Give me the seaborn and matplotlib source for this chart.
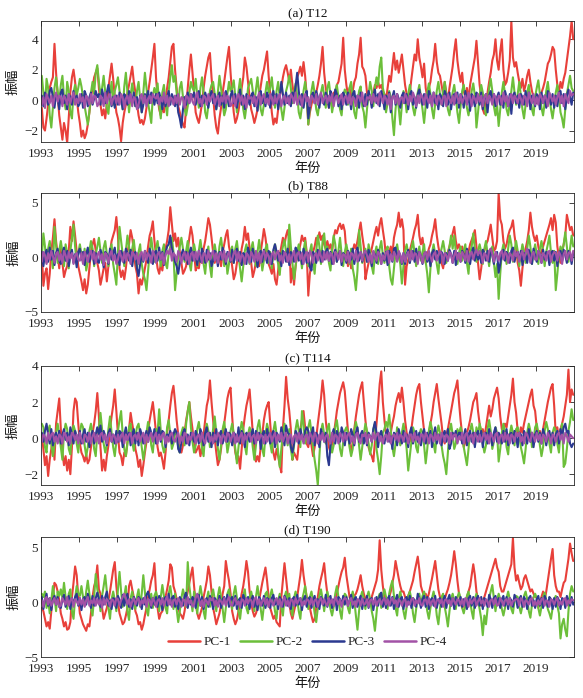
import numpy as np
import pandas as pd
import matplotlib
matplotlib.use("Agg")
import matplotlib.pyplot as plt
import seaborn as sns

# ---------------- data (monthly estimates, 1993-2020) ----------------
years_start = 1993
tick_years = list(range(1993, 2021, 2))
series_names = ["PC-1", "PC-2", "PC-3", "PC-4"]
colors = ["#E8403A", "#6CBF3A", "#2B3990", "#A252A6"]

# (a) T12
a_pc1 = [
 -0.5,-1.8,-2.0,-1.2,-0.3,0.8,1.2,1.5,3.7,1.8,0.3,-1.0,
 -1.8,-2.6,-1.5,-2.0,-2.8,-1.2,0.5,1.5,2.0,1.2,0.2,-0.8,
 -1.5,-2.4,-2.0,-2.5,-2.2,-1.6,-0.8,0.2,0.8,1.5,1.8,2.1,
 0.8,-0.3,-1.0,-0.6,-1.2,-0.2,0.8,1.6,2.4,1.4,0.2,-0.8,
 -1.2,-1.8,-2.7,-1.5,-0.8,-0.3,0.5,1.0,1.6,2.2,1.2,0.5,
 -0.2,-1.0,-1.5,-1.3,-1.6,-1.2,-0.5,0.5,1.2,2.0,2.8,3.7,
 1.5,0.2,-0.6,-1.0,-0.5,-0.8,0.0,0.8,1.5,2.5,3.5,3.7,
 2.0,0.8,-0.4,-0.8,-1.2,-1.6,-1.8,-0.5,0.8,2.0,3.0,1.8,
 0.5,-0.8,-1.2,-1.5,-0.9,-0.2,0.8,1.6,2.2,2.8,3.1,1.5,
 0.3,-1.0,-1.8,-2.2,-1.2,-0.5,0.5,1.2,2.0,2.8,3.5,1.8,
 0.4,-0.8,-1.5,-1.2,-0.7,0.0,0.8,1.5,2.8,2.2,1.2,0.2,
 -0.6,-1.0,-1.5,-1.1,-0.6,0.2,0.9,1.6,2.0,2.6,3.2,1.6,
 0.4,-0.8,-1.6,-1.2,-1.5,-0.6,0.2,0.8,1.5,2.0,2.3,1.8,
 1.2,2.0,1.0,0.3,0.6,1.5,1.8,2.2,1.6,2.5,1.6,0.3,
 -1.6,-0.8,-0.3,0.2,0.0,0.5,1.0,1.6,2.4,3.5,1.8,0.8,
 0.2,-0.5,0.3,-0.2,0.5,0.2,1.0,1.2,1.8,2.4,4.1,2.0,
 1.0,0.3,0.8,0.2,0.6,1.2,1.5,2.4,3.0,4.1,2.2,2.0,
 1.6,0.5,0.0,0.3,-0.3,0.5,1.0,0.8,1.2,0.8,1.0,0.6,
 0.4,0.0,0.8,1.6,1.2,2.2,3.1,2.0,2.6,1.8,2.4,3.0,
 2.0,1.0,0.4,-0.3,0.5,1.4,2.2,3.0,2.6,4.0,2.8,2.2,
 1.5,2.4,0.8,0.2,0.8,1.2,2.0,2.6,3.7,2.5,1.8,1.6,
 1.0,0.4,1.2,0.5,0.0,0.8,1.5,2.2,3.2,4.0,2.6,1.8,
 1.2,1.8,0.6,0.2,0.8,0.0,1.0,1.6,2.2,2.8,3.9,2.4,
 1.0,0.2,-0.6,-0.9,-0.3,0.5,1.2,1.8,2.6,3.0,4.0,2.6,
 2.0,3.2,4.0,2.0,1.0,1.2,1.8,2.6,5.2,2.8,2.2,2.5,
 1.8,1.2,0.8,1.4,0.6,1.0,1.6,2.0,1.2,0.6,0.2,0.0,
 -0.2,0.3,0.0,0.5,0.8,1.2,1.8,2.4,2.6,3.0,3.5,3.3,
 2.0,1.0,0.5,1.2,0.8,1.4,1.8,2.6,3.4,4.2,5.2,4.0,
]
a_pc2 = [
 1.6,0.5,-0.5,1.4,0.8,-1.0,-1.8,-0.5,0.8,1.5,0.6,-0.2,
 1.0,1.6,0.2,-0.6,1.2,0.6,-0.8,-1.2,0.5,1.0,0.3,0.8,
 1.4,0.9,0.2,-0.4,-1.0,-1.6,-0.8,0.5,1.2,0.4,1.8,2.3,
 1.2,0.3,0.8,1.6,0.5,-0.5,-0.9,0.4,1.2,-0.3,0.6,1.0,
 1.5,0.6,0.2,-0.6,0.9,1.8,0.5,-0.8,0.3,1.1,0.4,-0.4,
 0.6,1.2,0.1,-0.8,0.5,1.8,0.8,-0.2,-0.8,-1.5,0.3,0.8,
 0.4,1.1,-0.3,-1.2,0.5,1.0,-0.2,-1.0,0.6,1.5,2.3,1.2,
 1.6,0.5,-0.2,0.8,1.2,0.2,-0.6,-1.0,-0.4,0.5,1.2,0.8,
 0.6,1.4,0.3,-0.5,0.8,1.5,0.5,-0.8,-1.2,-0.3,0.6,1.0,
 1.2,0.4,-0.6,0.5,1.6,0.8,-0.2,-1.0,-0.6,0.4,1.2,0.6,
 0.8,1.3,0.2,-0.8,0.6,1.4,0.3,-0.6,-1.2,-0.4,0.8,1.1,
 1.4,0.6,-0.2,0.7,1.5,0.4,-0.6,-1.0,-0.3,0.5,1.2,0.5,
 0.8,1.5,0.4,-0.5,0.6,1.2,0.2,-0.6,-1.3,-0.5,0.6,1.0,
 1.6,0.8,-0.2,0.5,1.1,0.3,-0.8,-1.2,-0.4,0.6,1.2,0.4,
 -1.6,-0.5,0.6,1.2,0.4,-0.6,-1.0,-0.2,0.5,1.0,0.3,-0.5,
 0.8,1.2,0.3,-0.8,-0.2,0.6,1.0,0.2,-0.6,-1.0,0.2,0.7,
 0.5,-0.3,0.8,1.2,0.2,-0.8,-1.2,-0.2,0.6,0.9,-0.4,-0.8,
 -1.8,-0.6,0.4,1.2,0.6,-0.4,0.8,1.5,1.0,2.2,2.8,0.8,
 0.3,-0.8,-0.2,0.6,0.2,-1.2,-2.3,-0.6,0.4,-0.5,-1.6,-0.3,
 0.6,0.2,-0.8,0.4,1.0,0.3,-0.5,-1.0,-0.3,0.5,1.0,0.2,
 -0.6,-1.5,-0.4,0.5,1.1,0.4,-0.6,-1.2,-0.2,0.6,1.2,0.4,
 -0.3,0.6,1.2,0.3,-0.6,-1.0,-0.2,0.5,1.0,0.2,-0.8,-1.5,
 -0.4,0.6,1.0,0.2,-0.5,-1.0,-0.3,0.6,1.1,0.3,-1.8,-0.8,
 0.3,1.0,0.5,-0.4,-1.0,-0.2,0.8,1.4,0.6,-0.4,-1.0,-0.3,
 -1.7,-0.6,0.5,1.2,0.4,-0.6,-1.0,-0.2,0.6,1.5,0.5,-0.3,
 0.4,1.2,0.3,-0.6,-1.2,-0.3,0.5,1.0,0.2,-0.6,-1.0,0.2,
 0.8,1.3,0.4,-0.5,-1.0,-0.2,0.6,1.2,0.3,-0.6,-1.2,-0.4,
 0.5,1.0,0.2,-0.8,-1.2,-1.8,-0.6,0.4,1.0,1.6,0.8,0.6,
]
a_pc3 = [
 0.3,-0.4,0.5,0.2,-0.3,0.6,0.8,0.2,-0.5,0.4,0.1,-0.6,
 0.5,0.7,-0.2,0.3,-0.6,0.4,0.2,-0.3,0.6,-0.1,0.3,-0.4,
 -0.2,0.4,-0.5,0.6,0.3,-0.4,0.2,0.5,-0.3,0.1,0.6,0.2,
 0.4,-0.3,0.7,0.2,-0.2,0.5,1.0,0.3,-0.4,0.2,-0.5,0.3,
 -0.3,0.5,0.1,-0.6,0.4,0.2,-0.3,0.6,0.3,-0.2,0.5,-0.4,
 0.2,-0.5,0.3,-0.8,-0.3,0.4,0.1,0.6,-0.2,0.5,0.3,-0.3,
 0.4,-0.2,0.5,0.1,-0.6,0.3,-0.4,0.2,0.6,-0.3,0.4,0.1,
 -0.4,0.3,-0.8,-1.2,-1.8,-0.6,0.2,-0.3,0.5,-0.2,0.4,0.2,
 0.5,-0.3,0.2,0.6,-0.4,0.3,-0.2,0.5,0.1,-0.5,0.3,0.6,
 -0.2,0.4,-0.6,0.2,0.5,-0.3,0.3,-0.5,0.6,0.2,-0.4,0.3,
 0.6,-0.2,0.4,-0.5,0.2,0.7,-0.3,0.3,-0.6,0.4,0.1,-0.3,
 0.3,0.5,-0.4,0.2,-0.7,0.4,0.6,-0.2,0.3,-0.4,0.5,0.2,
 -0.5,0.3,0.6,-0.2,0.4,-0.6,0.2,1.2,0.4,-0.3,0.5,-0.2,
 0.3,-0.4,0.5,0.2,0.9,1.8,0.6,-0.3,0.4,-0.5,0.2,0.6,
 -1.2,-0.4,0.3,0.5,-0.2,0.6,0.2,-0.5,0.4,0.1,-0.3,0.5,
 0.2,-0.5,0.6,0.3,-0.2,0.7,0.4,-0.4,0.3,-0.6,0.5,0.2,
 -0.3,0.5,0.2,-0.6,0.4,0.6,-0.2,0.3,-0.5,0.5,0.1,-0.4,
 0.4,-0.3,0.6,0.2,-0.5,0.3,0.7,-0.2,0.4,-0.4,0.6,0.2,
 -0.6,0.3,-0.2,0.5,-0.8,0.2,0.6,-0.3,0.4,0.1,-0.5,0.3,
 0.5,-0.2,0.4,-0.6,0.3,0.6,-0.3,0.2,-0.5,0.4,0.7,0.1,
 -0.3,0.4,0.2,-0.5,0.6,0.3,-0.4,0.5,-0.2,0.3,-0.6,0.4,
 0.2,-0.4,0.6,0.3,-0.3,0.5,-0.6,0.2,0.4,-0.2,0.5,-0.5,
 0.4,0.2,-0.5,0.6,-0.2,0.3,-0.7,0.4,0.1,-0.4,0.5,0.3,
 -0.3,0.5,-0.6,0.2,0.4,-0.8,0.3,0.6,-0.2,0.4,-0.4,0.2,
 0.5,-0.3,0.3,-0.5,0.6,0.2,-0.4,0.4,-0.9,0.3,0.5,-0.2,
 0.3,-0.5,0.4,0.2,-0.3,0.6,-0.2,0.5,-0.6,0.3,0.1,-0.4,
 0.4,0.2,-0.6,0.5,-0.2,0.3,-0.5,0.6,0.2,-0.3,0.4,-0.5,
 0.3,-0.4,0.5,0.6,-0.2,0.4,-0.6,0.3,0.7,0.2,-0.3,0.5,
]
a_pc4 = [
 -0.3,0.2,-0.5,0.4,0.1,-0.2,0.3,-0.4,0.2,0.5,-0.1,0.3,
 0.2,-0.4,0.3,0.1,-0.3,0.4,-0.2,0.2,0.5,-0.3,0.1,-0.2,
 0.4,-0.1,0.2,-0.5,0.3,0.1,-0.3,0.4,-0.2,0.3,0.2,-0.4,
 -0.2,0.3,0.1,-0.4,0.5,-0.2,0.2,0.4,-0.3,0.1,0.3,-0.2,
 0.3,-0.3,0.4,0.2,-0.5,0.1,0.3,-0.2,0.4,-0.4,0.2,0.1,
 -0.6,-0.3,0.2,0.4,-0.2,0.3,-0.4,0.1,0.3,-0.2,0.4,0.2,
 0.1,0.4,-0.3,0.2,-0.1,0.5,-0.2,0.3,-0.4,0.2,0.1,-0.3,
 0.3,-0.2,0.4,-0.3,0.2,0.1,-0.5,0.3,0.2,-0.2,0.4,-0.1,
 -0.3,0.2,0.5,-0.2,0.1,-0.4,0.3,0.2,-0.3,0.4,-0.1,0.2,
 0.4,-0.3,0.1,0.3,-0.4,0.2,-0.1,0.5,-0.2,0.3,0.1,-0.4,
 -0.2,0.3,-0.4,0.2,0.4,-0.1,0.3,-0.3,0.2,-0.5,0.3,0.1,
 0.2,-0.2,0.3,-0.4,0.1,0.5,-0.3,0.2,0.4,-0.2,0.1,-0.3,
 0.4,0.1,-0.3,0.3,-0.2,0.2,0.4,-0.4,0.1,0.3,-0.2,0.2,
 -0.3,0.4,0.2,-0.2,0.5,-0.3,0.1,0.3,-0.4,0.2,0.4,-0.1,
 0.2,-0.4,0.3,0.1,-0.2,0.4,-0.3,0.2,0.5,-0.2,0.1,0.3,
 -0.2,0.3,-0.1,0.4,-0.4,0.2,0.3,-0.2,0.1,0.4,-0.3,0.2,
 0.3,-0.2,0.4,-0.3,0.2,0.1,-0.4,0.3,0.2,-0.1,0.5,-0.2,
 -0.4,0.2,0.1,0.3,-0.2,0.4,-0.1,0.2,-0.3,0.5,0.2,-0.2,
 0.3,0.1,-0.3,0.4,-0.6,0.2,0.3,-0.2,0.4,-0.3,0.1,0.2,
 -0.2,0.4,0.2,-0.3,0.3,-0.1,0.5,0.2,-0.4,0.3,-0.2,0.4,
 0.2,-0.3,0.4,0.1,-0.2,0.3,-0.4,0.5,0.2,-0.3,0.3,0.1,
 -0.3,0.2,0.3,-0.4,0.4,0.1,-0.2,0.3,-0.3,0.5,0.2,-0.2,
 0.4,-0.2,0.1,0.3,-0.3,0.5,0.2,-0.4,0.3,0.1,-0.2,0.4,
 -0.1,0.3,-0.4,0.2,0.4,-0.2,0.3,0.1,-0.3,0.4,0.2,-0.3,
 0.3,0.2,-0.3,0.5,-0.1,0.3,-0.4,0.2,0.4,-0.2,0.3,0.1,
 -0.2,0.4,0.1,-0.3,0.3,0.2,-0.4,0.5,0.1,-0.2,0.4,-0.3,
 0.2,-0.3,0.4,0.2,-0.2,0.3,0.1,-0.4,0.5,0.2,-0.1,0.3,
 -0.3,0.2,0.5,-0.2,0.3,-0.4,0.4,0.1,-0.2,0.6,0.3,0.4,
]

# (b) T88
b_pc1 = [
 0.5,-2.6,-1.5,-1.0,-2.9,-1.5,0.5,1.8,3.5,1.5,0.2,-1.0,
 1.0,-0.5,-1.8,-1.2,-0.8,0.6,2.8,1.5,3.3,2.0,0.5,-0.8,
 -1.5,-2.2,-3.0,-2.0,-3.3,-2.5,-1.0,0.5,1.2,1.7,0.6,-0.5,
 -1.2,-2.5,-1.8,-1.0,-0.5,-2.2,-0.8,0.5,1.5,2.0,2.5,3.7,
 2.0,-1.0,-1.8,-1.2,-2.0,-1.0,0.5,1.2,2.5,1.8,0.6,-0.8,
 -1.5,-3.3,-2.0,-2.5,-1.8,-1.0,-0.2,1.0,2.0,2.5,3.3,1.5,
 0.2,-1.0,-1.5,-0.6,-1.2,0.0,0.8,1.5,2.5,4.6,3.0,1.5,
 2.2,1.0,1.8,0.5,-0.5,-1.5,-1.2,-0.8,0.6,1.8,2.8,2.0,
 0.5,-1.2,-0.8,-1.0,0.2,-0.5,0.8,1.5,2.5,3.6,3.0,1.8,
 0.5,-0.5,0.2,-0.3,0.0,-0.8,0.5,1.2,2.0,2.5,1.0,0.3,
 -0.8,-2.0,-1.5,-0.5,0.3,-0.6,0.8,1.5,2.8,1.6,2.2,0.8,
 -0.5,-1.8,-1.2,-0.4,0.2,-0.8,0.5,1.5,2.6,1.8,0.6,-0.6,
 -1.0,-1.5,-0.6,-2.0,-2.5,-1.2,0.2,1.0,1.8,1.2,2.0,2.5,
 1.5,-2.3,-1.0,-2.5,-0.8,0.2,0.5,1.2,2.0,1.5,1.8,0.5,
 -3.5,-1.5,-0.5,0.5,1.0,1.8,1.5,2.3,1.6,2.0,1.2,0.8,
 1.5,0.8,1.2,0.5,1.8,2.5,2.2,2.8,3.1,2.6,3.0,2.4,
 0.5,-0.8,0.2,-1.0,0.5,1.2,0.8,1.5,2.4,3.2,2.0,1.0,
 -2.0,-1.2,-0.5,0.3,0.8,1.5,2.2,2.8,2.0,3.0,3.6,2.5,
 1.5,0.0,-0.5,0.5,1.0,0.2,1.8,2.5,3.0,4.1,2.8,3.5,
 2.5,-2.5,-0.8,-0.2,0.6,1.2,1.8,2.5,3.0,3.9,2.0,1.2,
 1.8,0.6,-0.5,0.2,0.8,1.2,2.0,2.6,3.5,2.0,1.0,0.2,
 -0.5,-1.0,0.0,-0.3,0.5,1.0,1.6,2.2,2.8,1.5,0.8,1.2,
 0.6,1.0,0.3,0.8,0.0,0.5,1.2,1.6,2.0,2.5,1.0,-0.5,
 -2.0,-1.0,0.3,0.6,1.2,1.5,2.2,3.0,1.8,0.6,0.8,1.5,
 5.9,3.5,3.0,1.5,0.8,1.2,2.0,2.5,2.8,3.4,2.0,1.0,
 -0.5,-1.2,-2.6,-1.0,0.2,0.8,1.5,2.5,4.1,2.8,2.0,1.5,
 2.0,1.0,0.2,0.5,1.0,1.5,2.0,2.5,3.0,3.6,2.5,3.9,
 3.2,1.0,0.0,-0.5,0.5,1.2,2.0,3.9,3.2,2.5,2.8,2.0,
]
b_pc2 = [
 0.0,2.2,1.0,-0.5,0.8,1.5,0.2,-1.0,2.8,1.2,-0.5,0.6,
 1.5,0.5,-0.8,1.2,0.4,-1.0,0.6,1.8,3.0,1.0,-0.6,0.4,
 1.2,0.3,-0.5,0.8,-1.2,-0.4,0.6,1.5,0.8,-0.8,0.3,1.0,
 1.8,0.6,-0.5,0.9,1.5,0.3,-0.8,0.5,1.2,-0.6,-1.5,-2.5,
 0.5,2.8,1.5,0.3,-0.8,0.6,2.0,1.0,-0.5,0.8,1.6,0.2,
 -1.0,0.5,1.2,-0.6,-1.5,-2.0,-3.0,-1.2,0.5,1.8,0.6,-0.4,
 0.8,1.5,0.2,-0.8,0.6,1.2,-0.5,-1.0,0.4,1.0,1.8,0.5,
 -3.0,-1.5,0.2,1.0,1.8,0.8,-0.4,0.6,1.5,-0.5,-1.2,0.3,
 1.2,0.4,-0.8,0.6,1.6,0.5,-0.6,-1.5,0.2,1.0,-0.8,-1.8,
 0.4,1.2,0.3,-0.5,1.0,1.8,0.6,-0.8,0.3,-1.5,-0.6,0.5,
 1.0,-0.5,0.8,1.5,0.2,-1.0,-2.2,-0.8,0.6,1.2,0.3,-0.6,
 0.8,1.4,0.2,-0.8,0.5,1.6,0.4,-1.2,-0.3,0.8,1.2,-0.5,
 0.5,-1.0,0.4,1.2,0.2,-0.6,-1.6,0.3,1.0,1.6,0.5,-0.4,
 3.0,1.0,-0.5,-2.0,-0.8,0.5,1.2,0.3,-1.0,0.6,1.5,0.2,
 -0.8,0.5,1.2,-0.4,-1.5,0.6,2.0,1.0,-0.6,1.5,2.2,0.5,
 1.0,-0.5,-1.2,0.8,2.0,1.2,-0.4,0.6,1.8,0.3,-0.8,0.5,
 1.2,0.4,-0.6,0.8,-1.0,-1.8,-3.0,-1.2,2.5,1.0,-0.5,0.3,
 0.8,-0.4,1.2,0.5,-0.8,-1.5,0.4,1.0,-0.6,0.8,1.5,0.2,
 -0.5,0.6,1.0,-0.8,-2.0,-2.5,-1.0,0.5,1.2,0.2,-0.6,-2.4,
 -0.8,0.6,1.2,0.3,-0.5,0.8,1.5,0.4,-0.8,0.2,1.0,-0.3,
 0.5,1.2,-0.4,-1.5,-3.2,-1.0,0.4,1.2,0.3,-0.6,-1.5,0.2,
 0.8,1.5,0.6,-0.5,0.3,1.0,2.0,0.8,2.0,0.5,-0.6,0.4,
 1.0,-0.3,0.6,1.2,-0.5,-1.5,0.4,1.0,2.2,0.8,-0.4,0.6,
 1.2,0.5,-0.6,0.8,1.5,0.3,-0.8,0.4,1.0,-0.5,-1.8,-0.6,
 -3.8,-1.5,0.5,1.2,0.4,-0.6,0.8,2.0,1.2,-0.4,0.6,1.5,
 0.6,-0.8,0.3,1.2,0.5,-0.5,0.8,2.0,1.0,-0.6,0.4,1.2,
 0.3,-0.6,0.8,1.5,0.6,-0.8,0.5,1.2,2.0,0.4,-0.5,0.6,
 -3.0,-1.5,0.2,1.0,0.5,1.2,2.3,1.0,-0.4,0.8,2.0,1.0,
]
b_pc3 = [
 0.5,-0.8,0.3,0.7,-0.4,0.9,-0.2,0.6,-0.7,0.4,0.8,-0.3,
 -0.6,0.4,0.9,-0.3,0.6,-0.8,0.2,0.7,-0.5,0.3,-0.9,0.5,
 0.8,-0.2,0.5,-0.7,0.3,0.9,-0.4,0.2,0.6,-0.6,0.4,-0.3,
 -0.5,0.7,0.2,-0.9,0.5,0.3,-0.6,0.8,-0.2,0.4,0.9,-0.4,
 0.3,-0.7,0.6,0.2,-0.5,0.8,0.4,-0.3,0.7,-0.8,0.2,0.5,
 -1.0,-1.7,-0.6,0.3,-0.4,0.6,0.2,-0.5,0.8,0.3,-0.6,0.4,
 0.6,-0.3,0.9,-0.2,0.5,-0.7,0.4,1.0,1.2,2.0,0.8,0.3,
 -0.4,-0.8,-1.5,-0.5,0.3,0.7,-0.2,0.5,-0.6,0.4,0.9,-0.3,
 0.5,0.2,-0.7,0.6,-0.4,0.8,0.3,-0.5,0.7,-0.2,0.4,-0.8,
 -0.3,0.6,0.4,-0.8,0.5,-0.2,0.9,0.3,-0.6,0.5,0.2,-0.4,
 0.7,-0.5,0.3,0.8,-0.3,0.5,-0.7,0.4,0.2,-0.6,0.9,0.3,
 -0.4,0.8,-0.2,0.5,-0.9,0.3,0.6,-0.4,0.7,0.2,-0.5,0.6,
 0.3,-0.6,0.7,1.2,0.5,-0.3,0.4,-0.8,0.6,0.2,-0.4,0.8,
 -0.7,0.5,0.2,-0.4,0.9,0.6,-0.3,0.5,-0.6,0.8,0.3,-0.5,
 0.4,-0.9,-1.2,0.5,0.2,-0.5,0.7,0.3,-0.4,0.6,-0.2,0.5,
 0.8,-0.3,0.5,-0.6,0.3,0.7,-0.4,0.2,0.6,-0.7,0.4,0.2,
 -0.5,0.6,0.3,-0.2,0.8,-0.6,0.4,0.9,-0.3,0.5,-0.4,0.3,
 0.6,-0.4,0.7,0.2,-0.8,0.5,0.3,-0.5,0.7,0.2,-0.6,0.4,
 -0.3,0.5,-0.7,0.6,0.2,-0.4,0.8,0.9,-0.3,0.5,0.2,-0.6,
 0.4,-0.6,0.3,0.7,-0.5,0.2,0.6,-0.4,0.8,-0.3,0.5,0.1,
 -0.6,0.3,0.5,-0.4,0.2,-0.8,0.4,0.7,-0.2,0.6,0.3,-0.5,
 0.5,0.2,-0.6,0.4,-0.3,0.7,0.3,-0.5,0.6,-0.7,0.4,0.2,
 -0.4,0.6,0.3,-0.5,0.8,0.2,-0.6,0.4,0.9,-0.3,0.5,-0.2,
 0.3,-0.5,0.7,0.4,-0.3,0.6,-0.4,0.8,0.2,-0.6,0.3,0.5,
 -1.4,-0.6,0.4,0.7,-0.3,0.5,0.2,-0.5,0.6,0.9,-0.4,0.3,
 0.5,-0.3,0.6,-0.7,0.4,0.2,-0.5,0.7,0.3,-0.6,0.8,0.2,
 -0.4,0.6,0.3,-0.5,0.7,-0.2,0.5,0.3,-0.7,0.4,0.6,-0.3,
 0.5,-0.8,0.4,0.6,-0.3,0.7,0.2,-0.5,0.6,0.3,-0.6,0.4,
]
b_pc4 = [
 -0.4,0.5,0.2,-0.6,0.4,-0.2,0.6,0.1,-0.5,0.3,0.5,-0.3,
 0.3,-0.5,0.6,0.2,-0.4,0.5,-0.1,0.4,-0.6,0.2,0.4,-0.2,
 -0.3,0.4,-0.6,0.5,0.1,-0.4,0.3,0.6,-0.2,0.5,-0.5,0.2,
 0.5,-0.2,0.3,-0.7,0.4,0.2,-0.5,0.3,0.6,-0.3,0.2,-0.6,
 -0.2,0.6,0.1,-0.4,0.5,-0.3,0.4,0.2,-0.6,0.5,0.3,-0.2,
 0.4,-0.6,0.3,0.5,-0.3,0.6,-0.2,0.4,0.1,-0.5,0.6,0.2,
 -0.5,0.3,0.5,-0.2,0.4,-0.6,0.2,0.6,0.3,0.8,-0.3,0.4,
 0.2,-0.4,0.6,0.3,-0.5,0.2,0.5,-0.3,0.4,-0.6,0.3,0.5,
 -0.3,0.5,-0.2,0.6,0.2,-0.5,0.4,0.3,-0.4,0.6,-0.2,0.3,
 0.6,-0.3,0.4,-0.5,0.3,0.5,-0.2,0.6,-0.4,0.2,0.5,-0.3,
 -0.2,0.4,0.6,-0.3,0.5,-0.4,0.3,0.1,-0.6,0.4,0.2,-0.5,
 0.5,0.2,-0.4,0.6,-0.3,0.4,-0.5,0.3,0.6,-0.2,0.4,0.1,
 -0.6,0.3,0.5,-0.2,0.4,0.6,-0.3,0.2,-0.5,0.5,0.3,-0.4,
 0.3,-0.5,0.2,0.6,-0.4,0.3,0.5,-0.2,0.4,-0.6,0.2,0.5,
 -0.4,0.6,0.3,-0.5,0.2,0.4,-0.3,0.6,0.1,-0.4,0.5,-0.2,
 0.5,-0.3,0.4,0.2,-0.6,0.5,0.3,-0.2,0.6,-0.4,0.3,0.2,
 -0.3,0.5,-0.5,0.4,0.3,-0.2,0.6,-0.4,0.2,0.5,-0.3,0.4,
 0.6,0.2,-0.4,0.3,-0.5,0.6,0.1,-0.3,0.5,0.3,-0.6,0.2,
 -0.2,0.4,0.6,-0.5,0.3,-0.3,0.5,0.2,-0.4,0.6,0.2,-0.5,
 0.4,-0.4,0.2,0.5,-0.3,0.6,-0.2,0.4,0.3,-0.6,0.5,0.1,
 -0.5,0.3,0.5,-0.2,0.6,0.1,-0.4,0.3,0.5,-0.3,0.2,0.6,
 0.3,-0.6,0.4,0.2,-0.3,0.5,0.3,-0.5,0.2,0.6,-0.2,0.4,
 -0.4,0.5,0.2,-0.3,0.6,-0.4,0.3,0.5,-0.2,0.4,0.7,0.2,
 0.6,0.3,-0.5,0.4,0.2,-0.3,0.6,0.8,0.3,-0.4,0.5,0.2,
 -0.3,0.4,0.6,-0.2,0.5,0.3,-0.5,0.4,0.2,-0.3,0.6,0.1,
 0.5,-0.4,0.3,0.6,-0.2,0.4,0.8,0.2,-0.5,0.3,0.5,-0.2,
 -0.2,0.6,0.3,-0.5,0.4,0.2,-0.3,0.5,0.6,-0.4,0.2,0.5,
 0.4,-0.3,0.5,0.2,-0.6,0.3,0.6,-0.2,0.4,0.5,-0.3,0.6,
]

# (c) T114
c_pc1 = [
 0.2,-0.6,-1.5,-1.0,-2.1,-1.2,-0.6,0.2,-1.2,0.8,1.5,2.2,
 0.5,-0.8,-1.5,-1.0,-1.8,-1.2,-2.0,-0.5,1.5,2.2,2.0,0.8,
 -0.3,-0.8,-1.0,-1.3,-0.9,-1.4,-1.2,-0.5,0.3,0.8,1.5,2.5,
 1.2,-0.5,-1.8,-1.2,-1.8,-1.0,-0.4,0.5,1.2,1.8,2.7,1.5,
 0.2,-0.8,-1.0,-1.5,-0.8,-1.0,-0.2,0.5,1.4,0.8,0.3,-0.6,
 -1.0,-1.6,-1.2,-2.1,-1.5,-0.8,-0.2,0.4,1.0,1.5,2.0,1.2,
 0.3,-0.5,-1.0,-0.8,-1.2,-1.7,-0.8,0.3,1.0,1.8,2.5,2.9,
 2.0,1.0,0.2,-0.5,-0.8,-0.4,0.3,1.0,1.5,2.0,1.2,0.5,
 -0.3,-0.8,-0.6,-0.4,-1.0,-0.5,0.2,1.0,1.8,2.2,3.2,2.0,
 1.0,0.0,-0.8,-1.5,-1.2,-0.6,0.2,0.8,1.5,2.2,2.6,2.8,
 1.2,0.0,-0.8,-1.2,-1.0,-1.7,-0.6,0.5,1.2,1.8,2.2,2.7,
 1.5,0.3,-0.6,-1.3,-1.0,-1.3,-0.5,0.2,1.0,1.5,1.8,2.0,
 0.8,-0.3,-0.8,-1.2,-0.6,-1.0,-1.5,-1.9,0.5,1.8,3.4,2.2,
 1.5,0.5,-1.2,-0.8,-1.0,-1.2,-0.3,0.5,1.0,1.5,0.6,-0.3,
 -0.5,0.2,-0.4,-1.0,-0.5,0.0,0.8,1.5,2.2,3.2,2.4,1.0,
 0.2,-0.5,-0.8,-0.3,0.2,0.8,1.5,2.0,2.5,2.8,3.1,2.6,
 1.5,0.4,-0.3,-0.8,-0.2,0.5,1.2,1.8,2.4,2.8,3.1,2.0,
 1.0,0.2,-0.5,-0.8,-1.0,-1.3,-0.2,0.8,1.8,3.0,3.7,2.0,
 1.0,0.2,0.4,0.0,0.3,0.8,1.2,1.8,2.2,2.5,2.0,2.8,
 2.0,1.0,0.3,0.0,-0.2,0.5,1.2,1.8,2.4,2.8,3.0,2.0,
 1.2,0.4,0.0,-0.3,0.2,0.8,1.3,2.0,2.5,3.0,2.2,1.5,
 0.8,0.0,-0.3,0.2,0.5,1.0,1.5,2.0,2.5,2.8,3.2,2.0,
 1.0,0.2,-0.5,-0.2,0.3,0.6,1.0,1.5,2.0,2.2,2.5,1.5,
 0.8,0.3,0.5,0.0,0.6,1.2,1.8,1.2,1.6,2.2,2.5,2.8,
 2.2,1.2,0.5,0.4,0.8,0.6,1.2,1.8,2.4,3.3,2.0,1.4,
 0.4,0.0,0.6,0.3,0.8,1.2,1.6,2.0,2.4,2.7,1.8,1.5,
 0.6,0.0,0.4,-0.2,0.5,1.0,1.5,2.0,2.4,2.8,3.0,1.8,
 0.2,0.6,-0.2,0.5,0.8,1.2,1.8,2.4,3.8,2.0,2.7,2.4,
]
c_pc2 = [
 0.8,0.6,-0.5,-0.8,0.4,0.7,-0.3,-1.0,-0.4,0.3,0.8,0.2,
 -0.5,-1.2,0.3,0.8,0.5,-0.6,-0.9,0.2,0.7,0.4,-0.3,-0.8,
 0.3,0.8,0.6,-0.4,-1.0,-0.5,0.4,0.8,0.2,-0.6,-1.0,0.3,
 0.6,1.4,0.5,-0.3,-0.8,-0.4,0.5,1.2,0.3,-0.5,-1.0,-0.2,
 0.4,1.0,1.5,0.2,-0.6,-1.0,-0.3,0.6,0.8,-0.2,-0.7,0.1,
 0.6,0.8,0.2,-0.5,-1.2,-0.6,0.3,0.9,0.5,-0.4,-0.8,0.2,
 0.5,0.3,1.6,0.4,-0.4,-0.8,-0.5,0.6,1.0,0.2,-0.6,-0.3,
 0.4,0.2,-0.5,-0.8,0.3,0.6,-0.4,0.8,1.5,2.0,0.6,-0.2,
 -0.8,-0.4,0.5,0.9,0.2,-0.6,-1.0,0.3,0.8,0.4,-0.5,-0.2,
 0.5,1.2,0.3,-0.6,-1.2,-0.4,0.5,0.9,0.2,-0.8,-0.3,0.4,
 0.8,0.2,-0.6,-1.4,-0.5,0.3,0.9,0.5,-0.4,-0.9,0.2,0.6,
 0.3,-0.5,-1.2,-0.4,0.6,1.0,0.3,-0.6,-1.0,0.2,0.8,0.4,
 -0.3,-0.8,0.4,0.9,0.2,-0.8,-1.6,-0.6,0.3,0.8,0.2,-0.4,
 0.5,-0.6,-1.2,-0.4,0.5,1.0,0.4,-0.5,1.5,0.8,-0.3,0.2,
 0.6,1.0,0.3,-0.5,-1.2,-1.8,-2.6,-1.0,0.4,0.8,0.2,-0.3,
 0.5,0.8,-0.2,-0.8,-0.4,0.6,1.0,0.3,-0.6,-1.0,-0.2,0.4,
 0.6,0.3,-0.5,-1.0,-0.6,0.4,0.9,0.5,-0.4,-1.2,-0.5,0.2,
 0.8,0.4,-0.3,-0.9,-0.4,0.5,0.8,-0.6,-1.2,-2.0,-1.0,0.3,
 0.5,0.9,0.6,1.3,0.4,-0.5,-1.0,-0.3,0.6,0.2,-0.4,0.3,
 0.8,0.2,-0.6,-1.8,-1.0,-0.2,0.6,0.3,-0.5,-0.8,0.2,0.5,
 0.3,-0.4,-1.4,-0.6,0.4,0.9,0.5,-0.3,-0.8,0.2,0.7,0.3,
 -0.4,-1.0,-1.4,-2.0,-0.8,0.4,0.8,0.2,-0.6,-0.3,0.5,0.2,
 0.6,0.2,-0.5,-1.0,-1.5,-0.6,0.4,0.8,0.3,-0.4,0.6,0.2,
 0.8,0.4,-0.3,-0.8,-0.4,0.5,1.0,0.4,-0.6,-0.2,0.6,0.3,
 -1.3,-0.6,0.3,0.8,0.4,-0.5,-0.9,0.2,0.7,0.3,-0.4,0.5,
 0.6,0.2,-0.5,-0.9,-1.4,-0.6,0.3,0.8,0.4,-0.5,-0.2,0.6,
 0.8,0.3,-0.4,-1.0,-0.5,0.4,0.9,0.5,-0.3,-0.8,0.3,0.6,
 0.4,-0.3,-0.8,0.3,0.8,-1.6,-1.4,-0.6,0.4,0.9,1.6,1.0,
]
c_pc3 = [
 0.3,-0.2,0.4,0.8,0.2,-0.3,0.5,-0.4,0.1,0.3,-0.2,0.4,
 -0.3,0.2,0.5,-0.1,0.3,-0.4,0.6,0.2,-0.3,0.4,0.1,-0.2,
 0.4,-0.3,0.2,0.5,-0.2,0.3,-0.5,0.1,0.4,-0.3,0.2,0.6,
 0.2,0.7,-0.2,0.4,0.1,-0.4,0.3,0.5,-0.2,0.2,-0.3,0.4,
 -0.2,0.4,0.3,-0.5,0.2,0.6,-0.1,0.3,-0.4,0.2,0.5,-0.3,
 0.3,-0.4,0.5,0.2,-0.3,0.1,0.4,-0.2,0.6,0.3,-0.1,0.5,
 -0.3,0.2,0.6,-0.2,0.4,0.3,-0.5,0.2,0.1,0.4,-0.3,0.2,
 0.5,0.3,-0.6,-0.8,-0.2,0.3,0.5,-0.3,0.2,-0.4,0.3,0.1,
 -0.2,0.4,0.1,-0.3,0.5,0.2,-0.4,0.3,0.6,-0.2,0.3,-0.5,
 0.3,-0.2,0.5,-0.4,0.2,0.4,-0.3,0.1,0.5,-0.2,0.3,0.2,
 -0.4,0.3,0.2,-0.2,0.6,-0.3,0.4,0.2,-0.5,0.3,0.1,-0.2,
 0.2,0.5,-0.3,0.4,-0.1,0.3,-0.6,0.2,0.4,-0.3,0.5,0.1,
 -0.3,0.2,0.4,-0.5,0.3,0.1,-0.2,0.6,0.2,-0.4,0.7,0.3,
 0.2,-0.5,-0.8,-0.3,0.4,0.2,-0.3,0.5,0.1,-0.2,0.4,0.6,
 0.4,-0.3,0.2,0.6,-0.4,0.3,0.1,-0.5,0.5,0.2,-0.2,0.3,
 -1.0,-1.5,-0.4,0.2,0.5,-0.3,0.4,0.1,-0.2,0.6,0.3,-0.4,
 0.3,0.1,-0.3,0.5,0.2,-0.4,0.3,0.6,-0.2,0.2,0.4,-0.3,
 0.2,-0.4,0.3,0.1,-0.2,0.5,0.9,0.3,-0.5,0.2,0.4,-0.2,
 -0.3,0.3,0.5,-0.2,0.1,-0.6,0.3,0.2,-0.4,0.5,0.1,-0.3,
 0.4,-0.2,0.2,-0.5,0.3,0.6,-0.3,0.1,0.4,-0.2,0.3,-0.4,
 0.2,0.5,-0.3,0.3,-0.1,0.4,-0.5,0.2,0.6,-0.3,0.2,0.1,
 -0.4,0.2,0.4,-0.2,0.5,-0.6,-0.3,0.3,0.1,0.4,-0.2,0.3,
 0.3,-0.3,0.1,0.5,-0.4,0.2,0.4,-0.2,0.3,-0.5,0.2,0.4,
 -0.2,0.4,-0.5,0.2,0.3,-0.3,0.5,0.1,-0.4,0.3,0.6,-0.2,
 0.3,0.1,-0.3,0.4,-0.2,0.5,-0.4,0.2,0.3,-0.3,0.4,0.1,
 -0.5,0.3,0.2,-0.4,0.4,0.1,-0.3,0.5,-0.2,0.3,-0.5,0.2,
 0.4,-0.2,0.3,-0.3,0.5,0.2,-0.4,0.1,0.4,-0.2,0.3,-0.4,
 0.2,0.4,-0.3,0.5,0.1,0.6,0.8,0.3,0.4,-0.3,-0.5,-0.3,
]
c_pc4 = [
 -0.2,0.2,0.1,-0.3,0.3,-0.1,0.2,0.3,-0.2,0.1,-0.3,0.2,
 0.1,-0.3,0.3,0.2,-0.2,0.1,-0.3,0.3,0.2,-0.1,0.2,-0.3,
 0.3,-0.1,-0.3,0.2,0.1,-0.2,0.3,-0.3,0.1,0.3,-0.2,0.2,
 -0.3,0.2,0.3,-0.1,0.2,-0.3,0.1,0.3,-0.2,0.2,0.1,-0.3,
 0.2,-0.2,0.1,0.3,-0.3,0.2,-0.1,0.2,0.3,-0.3,0.1,0.2,
 -0.1,0.3,-0.2,0.1,0.3,-0.3,0.2,-0.2,0.1,0.3,-0.2,0.1,
 0.3,-0.3,0.2,-0.1,0.2,0.3,-0.3,0.1,-0.2,0.2,0.3,-0.1,
 -0.2,0.1,0.3,-0.3,0.1,-0.2,0.3,0.2,-0.3,0.1,-0.1,0.3,
 0.2,-0.3,0.1,0.2,-0.2,0.3,-0.1,-0.3,0.2,0.3,-0.2,0.1,
 -0.3,0.2,-0.1,0.3,0.1,-0.3,0.2,0.1,-0.2,0.3,0.2,-0.2,
 0.1,0.3,-0.3,0.2,-0.2,0.1,0.3,-0.3,0.2,-0.1,0.2,0.3,
 -0.2,0.1,0.2,-0.3,0.3,-0.1,0.2,0.1,-0.3,0.2,-0.2,0.1,
 0.3,-0.2,0.1,0.3,-0.3,0.2,-0.1,0.3,-0.2,0.1,0.3,-0.3,
 0.1,0.2,-0.3,0.1,0.2,-0.2,0.3,-0.1,0.2,-0.3,0.1,0.2,
 -0.3,0.3,0.1,-0.2,0.3,0.1,-0.3,0.2,-0.1,0.3,-0.2,0.1,
 0.2,-0.1,-0.3,0.3,-0.2,0.2,0.1,-0.3,0.3,0.1,-0.2,0.3,
 -0.1,0.2,0.3,-0.2,0.1,-0.3,0.2,0.3,-0.1,-0.3,0.2,0.1,
 0.3,-0.3,0.2,0.1,-0.2,0.3,-0.1,0.2,0.3,-0.2,0.1,-0.3,
 0.1,0.2,-0.2,0.3,-0.3,0.1,0.2,-0.1,0.3,-0.2,0.2,0.1,
 -0.2,0.3,0.1,-0.3,0.2,0.2,-0.2,0.3,-0.1,0.1,-0.3,0.2,
 0.2,-0.2,0.3,0.1,-0.3,0.2,0.1,-0.2,0.3,-0.1,0.2,-0.3,
 0.3,0.1,-0.2,0.2,0.1,-0.3,0.3,-0.1,0.2,0.2,-0.3,0.1,
 -0.1,0.3,-0.3,0.2,0.3,-0.2,0.1,0.2,-0.3,0.3,0.1,-0.2,
 0.2,-0.2,0.1,0.3,-0.1,0.2,-0.3,0.3,0.1,-0.2,0.2,0.3,
 -0.3,0.1,0.2,-0.2,0.3,-0.1,0.2,-0.3,0.2,0.1,-0.2,0.3,
 0.1,0.3,-0.2,0.1,-0.3,0.3,0.2,-0.1,-0.2,0.3,0.1,-0.2,
 0.3,-0.1,0.2,-0.3,0.2,0.1,-0.2,0.3,0.1,-0.3,0.2,0.1,
 -0.2,0.2,0.3,-0.1,0.2,-0.3,0.3,0.1,-0.2,0.2,0.1,0.0,
]

# (d) T190
d_pc1 = [
 -0.5,-0.8,-1.5,-2.2,-1.8,-2.4,-0.8,0.5,1.8,1.6,1.0,0.2,
 -1.0,-1.5,-2.2,-1.8,-2.5,-2.4,-1.8,0.5,1.8,3.3,2.5,0.5,
 -1.0,-1.5,-2.0,-2.3,-2.6,-2.0,-2.2,-1.0,0.5,1.5,2.0,3.4,
 1.2,0.8,-0.5,-1.5,-1.0,-0.5,0.2,1.0,2.0,3.0,3.7,1.5,
 0.0,-1.0,-1.5,-2.0,-1.8,-1.2,-0.5,1.5,2.0,1.2,0.5,-0.8,
 -1.2,-2.0,-1.8,-2.5,-2.0,-1.2,-0.5,0.5,1.2,2.0,2.5,3.6,
 1.0,-0.5,-1.5,-1.0,-0.8,-0.2,0.5,1.2,2.0,3.5,3.2,1.5,
 1.0,0.3,-0.5,-1.0,-1.2,-1.5,-0.8,0.2,1.0,1.8,2.5,3.2,
 1.5,0.0,-1.0,-1.5,-1.0,-0.5,0.5,1.2,2.0,3.3,2.5,1.0,
 -0.5,-1.2,-2.0,-1.5,-1.0,-0.2,0.8,1.5,3.8,2.8,2.0,0.8,
 -0.8,-1.5,-2.0,-1.6,-0.8,0.0,0.8,1.5,2.5,3.8,2.8,1.0,
 0.0,-0.8,-1.3,-1.0,-0.5,0.2,1.0,1.8,2.5,3.2,2.0,0.5,
 -0.5,-1.0,-1.5,-1.2,-1.8,-2.0,-2.2,0.5,2.0,3.6,2.2,0.8,
 0.0,-1.0,-1.5,-0.8,-0.2,0.5,1.5,2.5,3.9,2.5,1.5,0.5,
 0.2,-0.5,-1.2,-1.8,-1.5,-0.5,0.5,1.5,2.2,2.8,3.6,2.0,
 0.8,0.2,-0.3,-0.5,-0.3,0.2,0.8,1.5,2.2,2.8,3.2,4.1,
 2.5,1.5,0.5,0.0,0.3,0.6,0.8,1.2,1.8,2.5,1.5,0.8,
 0.3,0.5,0.0,-0.3,0.5,1.0,1.5,2.0,3.0,5.7,3.0,1.5,
 0.5,-0.5,0.2,0.5,1.0,1.8,2.5,3.8,3.0,2.2,1.5,1.0,
 1.0,0.5,0.2,0.6,1.0,1.5,2.0,2.8,3.5,4.2,3.0,1.5,
 1.0,0.5,0.8,0.3,0.8,1.5,2.2,3.0,3.8,2.5,1.2,0.5,
 0.5,0.0,0.3,0.8,1.2,1.8,2.5,3.5,4.7,3.5,2.0,0.8,
 0.0,-0.5,-0.3,0.0,0.5,1.0,1.5,2.5,3.5,2.5,1.0,0.3,
 0.0,-0.3,0.2,0.5,1.0,1.5,2.0,2.5,3.0,3.5,4.0,3.2,
 2.8,1.5,1.0,1.0,1.5,2.0,2.5,3.0,3.5,5.9,3.2,2.0,
 2.5,1.8,1.2,1.5,2.2,2.5,2.0,1.5,1.0,1.2,0.8,0.5,
 0.5,-0.5,0.0,0.5,1.0,0.2,1.0,2.0,3.0,4.0,4.9,2.5,
 1.5,1.0,1.0,0.5,1.2,1.8,2.0,3.0,4.0,5.4,4.5,3.8,
]
d_pc2 = [
 0.8,0.5,1.0,-0.5,0.3,-1.0,0.2,1.5,0.5,-0.8,1.0,0.6,
 1.2,0.4,1.8,0.5,-0.6,0.8,1.2,-0.8,-1.5,0.4,1.5,0.8,
 0.6,1.5,0.5,-0.3,1.0,2.0,0.8,-0.5,-1.2,0.5,2.6,1.2,
 0.5,-0.8,0.6,1.5,2.5,1.0,-0.5,-1.5,0.3,1.0,0.2,-0.8,
 1.2,2.8,1.0,-0.4,0.6,1.5,-0.8,-1.6,0.4,1.0,0.2,-0.6,
 0.5,1.2,-0.4,0.8,2.5,1.0,-0.6,-1.2,0.3,0.8,-0.5,0.6,
 1.0,0.3,-0.8,0.5,1.6,0.6,-0.5,-1.0,0.8,1.5,0.4,-0.6,
 0.8,-0.6,-1.8,-0.8,0.4,1.2,0.6,-0.4,3.7,1.5,0.3,-0.8,
 1.0,0.4,-1.0,0.5,1.5,0.6,-0.8,-1.5,0.3,1.0,-0.4,0.6,
 1.2,0.3,-0.8,0.6,1.4,0.5,-0.6,-1.8,-0.5,0.8,1.2,0.2,
 -0.6,0.8,1.5,0.4,-0.8,-1.5,-0.2,0.6,1.2,-0.5,-1.0,0.5,
 1.0,0.3,-0.8,0.5,1.5,0.4,-0.6,-1.6,-0.3,0.8,1.0,-0.4,
 0.6,1.2,0.3,-0.8,-1.5,0.2,0.8,-0.5,-1.2,0.5,1.0,0.2,
 0.8,-0.5,-1.2,0.4,1.0,0.3,-0.8,-1.5,0.2,0.8,1.5,0.4,
 -0.6,0.5,1.0,0.2,-1.0,-1.8,-0.5,0.6,1.2,0.3,-0.8,0.4,
 1.0,0.3,-0.6,-1.2,-0.4,0.8,1.5,0.5,-0.8,-1.5,0.2,0.8,
 0.6,-0.5,-1.0,0.4,1.0,0.2,-1.2,-2.5,-0.8,0.5,1.0,0.2,
 -0.6,0.5,1.0,0.3,-0.8,-1.5,-2.6,-1.0,0.4,0.8,-0.5,0.6,
 1.2,0.5,-0.6,0.8,1.5,2.0,0.6,-0.5,-1.2,0.4,1.0,0.2,
 -0.8,-1.5,-0.4,0.6,1.0,0.3,-1.0,-1.8,-0.6,0.5,0.8,-0.3,
 0.6,1.0,0.2,-0.8,-1.5,-0.5,0.4,1.0,0.2,-1.2,-2.0,-0.6,
 0.5,0.8,-0.4,-1.2,-2.2,-0.8,0.3,0.8,0.2,-0.6,0.5,0.9,
 0.4,-0.5,-1.0,-0.3,0.6,1.0,0.2,-0.8,-1.5,0.3,0.8,0.2,
 -0.6,-1.5,-3.0,-1.2,-2.0,-0.6,0.4,1.0,1.6,0.4,-0.8,0.2,
 0.8,0.3,-0.6,-1.2,-0.5,0.4,1.0,0.3,-0.6,-1.0,0.2,0.6,
 0.5,-0.4,-1.0,-0.3,0.6,1.0,0.3,-0.8,-1.4,-0.2,0.5,0.8,
 0.4,-0.5,-1.2,-0.4,0.5,0.9,0.2,-0.6,-1.0,-1.5,-0.5,0.3,
 0.6,-0.3,-1.0,-3.3,-2.0,-1.5,-2.5,-3.1,-0.8,0.8,1.5,1.0,
]
d_pc3 = [
 0.5,-0.6,0.2,0.8,-0.3,0.4,-0.7,0.3,0.6,-0.2,0.5,-0.4,
 -0.5,0.3,0.7,-0.4,0.2,0.6,-0.6,0.4,-0.2,0.5,0.8,-0.3,
 0.4,-0.7,0.3,0.5,-0.2,0.8,0.2,-0.5,0.6,-0.3,0.4,0.9,
 0.3,-0.4,0.6,-0.2,0.5,1.0,-0.3,0.2,-0.6,0.4,0.3,-0.5,
 0.6,0.2,-0.5,0.7,-0.3,0.4,0.8,-0.4,0.3,-0.6,0.5,0.2,
 -0.3,0.5,0.3,-0.6,0.4,-0.2,0.7,1.0,0.3,-0.5,0.4,-0.2,
 0.5,-0.4,0.6,0.2,-0.7,0.3,0.5,-0.3,0.8,-0.2,0.4,0.6,
 -0.4,0.3,-0.6,0.5,0.2,-0.3,0.6,0.9,-0.5,0.3,-0.2,0.5,
 0.3,-0.5,0.4,0.7,-0.3,0.5,-0.6,0.2,0.4,-0.4,0.6,0.2,
 -0.6,0.4,0.2,-0.3,0.6,-0.5,0.3,0.5,-0.2,0.7,-0.4,0.3,
 0.5,-0.3,0.6,-0.6,0.2,0.4,-0.5,0.7,0.3,-0.2,0.5,-0.6,
 0.2,0.6,-0.4,0.3,-0.7,0.5,0.2,-0.3,0.6,-0.5,0.4,0.3,
 -0.5,0.4,0.7,-0.2,0.3,-0.6,0.5,0.2,-0.4,0.6,0.3,-0.3,
 0.4,-0.6,0.3,0.5,-0.3,0.7,-0.2,0.4,-0.7,0.3,0.6,-0.4,
 0.3,0.5,-0.5,0.2,0.6,-0.4,0.3,-0.6,0.5,0.2,-0.3,0.7,
 -0.4,0.3,0.6,-0.5,0.2,0.4,-0.7,0.5,0.3,-0.3,0.6,-0.2,
 0.5,-0.3,0.2,0.7,-0.5,0.3,0.5,-0.4,0.2,0.6,-0.6,0.3,
 -0.3,0.6,-0.5,0.3,0.4,-0.7,0.2,0.5,-0.3,0.6,0.9,-0.4,
 0.4,-0.5,0.3,0.6,-0.3,0.5,-0.6,0.2,0.7,-0.4,0.3,0.5,
 -0.6,0.3,0.5,-0.2,0.6,-0.5,0.4,0.2,-0.4,0.8,0.3,-0.5,
 0.3,0.6,-0.4,0.5,-0.6,0.2,0.4,-0.3,0.6,-0.5,0.2,0.4,
 -0.4,0.2,0.6,-0.5,0.3,0.7,-0.3,0.4,-0.6,0.5,0.2,-0.3,
 0.5,-0.4,0.3,0.2,-0.6,0.4,0.6,-0.3,0.5,-0.5,0.3,0.6,
 -0.3,0.5,-0.6,0.4,0.2,-0.4,0.7,0.3,-0.5,0.4,0.6,-0.2,
 0.4,-0.5,0.3,0.6,-0.3,0.5,-0.6,0.4,0.2,-0.4,0.7,0.3,
 -0.5,0.3,0.6,-0.4,0.5,0.2,-0.6,0.4,0.6,-0.3,0.2,-0.5,
 0.3,0.6,-0.3,0.4,-0.5,0.6,0.2,-0.4,0.5,0.3,-0.6,0.4,
 -0.4,0.5,0.2,-0.6,0.4,0.3,-0.5,0.6,0.2,-0.3,0.5,-0.2,
]
d_pc4 = [
 0.2,-0.4,0.3,0.5,-0.2,0.4,-0.3,0.1,0.4,-0.2,0.3,-0.4,
 -0.3,0.4,0.1,-0.2,0.5,-0.3,0.2,0.4,-0.4,0.3,0.1,-0.2,
 0.4,-0.2,0.3,-0.4,0.2,0.5,-0.3,0.2,-0.1,0.4,-0.3,0.3,
 -0.2,0.3,-0.5,0.4,-0.2,0.3,0.1,-0.4,0.3,0.2,-0.3,0.4,
 0.3,-0.3,0.2,0.5,0.8,0.4,-0.2,0.3,-0.4,0.1,0.4,-0.2,
 0.2,0.4,-0.3,0.2,-0.1,0.5,-0.4,0.3,0.2,-0.3,0.4,0.1,
 -0.4,0.2,0.3,-0.2,0.4,-0.3,0.2,0.6,-0.2,0.3,-0.4,0.2,
 0.3,-0.2,0.4,0.1,-0.4,0.3,0.2,-0.3,0.5,-0.1,0.2,-0.4,
 -0.2,0.5,0.8,0.3,-0.3,0.2,-0.4,0.3,0.1,-0.2,0.4,0.2,
 0.4,-0.3,0.2,-0.4,0.3,0.1,-0.2,0.4,-0.3,0.2,0.5,-0.2,
 -0.3,0.2,0.4,-0.2,0.1,-0.4,0.3,0.2,-0.3,0.4,-0.1,0.3,
 0.2,-0.4,0.3,0.5,-0.2,0.3,-0.3,0.1,0.4,-0.2,0.3,-0.4,
 0.3,0.1,-0.3,0.2,0.4,-0.2,0.3,-0.4,0.2,0.5,-0.3,0.2,
 -0.4,0.3,0.2,-0.3,0.4,-0.1,0.2,0.4,-0.3,0.1,-0.2,0.3,
 0.2,-0.2,0.4,-0.3,0.2,0.3,-0.4,0.2,0.4,-0.2,0.3,-0.1,
 -0.3,0.4,-0.1,0.3,-0.3,0.5,0.2,-0.2,0.3,-0.4,0.2,0.4,
 0.3,-0.3,0.2,0.4,-0.2,0.1,-0.4,0.3,0.2,-0.3,0.4,-0.2,
 -0.1,0.3,-0.4,0.2,0.3,-0.2,0.4,-0.3,0.1,0.3,-0.2,0.2,
 0.4,-0.2,0.3,-0.3,0.2,0.4,-0.1,0.2,-0.4,0.3,0.1,-0.3,
 0.2,0.3,-0.4,0.1,-0.2,0.3,0.4,-0.3,0.2,-0.1,0.4,-0.2,
 -0.3,0.2,0.3,-0.2,0.4,-0.3,0.1,0.3,-0.4,0.2,0.3,-0.1,
 0.3,-0.4,0.2,0.3,-0.1,0.2,-0.3,0.4,0.1,-0.2,0.3,0.2,
 -0.2,0.3,-0.3,0.4,0.2,-0.4,0.3,-0.1,0.2,0.4,-0.3,0.1,
 0.4,-0.1,0.2,-0.3,0.3,0.1,-0.4,0.2,0.3,-0.2,0.4,-0.3,
 -0.2,0.4,0.1,-0.3,0.2,0.3,-0.2,0.4,-0.3,0.1,0.2,0.3,
 0.3,-0.3,0.4,0.2,-0.4,0.2,0.1,-0.2,0.3,0.4,-0.3,0.1,
 -0.3,0.2,-0.2,0.3,0.4,-0.3,0.2,0.1,-0.4,0.3,0.2,-0.2,
 0.2,0.4,-0.3,0.1,-0.2,0.3,0.4,-0.3,0.2,-0.1,0.3,0.2,
]

panel_titles = ["(a) T12", "(b) T88", "(c) T114", "(d) T190"]
panel_data = [
    [a_pc1, a_pc2, a_pc3, a_pc4],
    [b_pc1, b_pc2, b_pc3, b_pc4],
    [c_pc1, c_pc2, c_pc3, c_pc4],
    [d_pc1, d_pc2, d_pc3, d_pc4],
]
panel_ylims = [(-2.75, 5.2), (-5, 5.9), (-2.6, 4.0), (-5, 6.0)]
panel_yticks = [[-2, 0, 2, 4], [-5, 0, 5], [-2, 0, 2, 4], [-5, 0, 5]]

# ---------------- plotting ----------------
sns.set_theme(style="white")
plt.rcParams["font.family"] = ["Liberation Serif", "Noto Sans CJK SC", "DejaVu Sans"]
plt.rcParams["axes.unicode_minus"] = True

fig = plt.figure(figsize=(5.83, 6.98), dpi=100)
W, H = 583.0, 698.0
left_px, right_px = 41, 574
axes_px = [(21, 142), (193, 312), (366, 485), (537, 657)]

fs = 9.5
for k, (title, series, ylim, yt) in enumerate(zip(panel_titles, panel_data, panel_ylims, panel_yticks)):
    top, bot = axes_px[k]
    ax = fig.add_axes([left_px / W, 1 - bot / H, (right_px - left_px) / W, (bot - top) / H])
    frames = []
    for name, vals in zip(series_names, series):
        n = len(vals)
        t = years_start + (np.arange(n) + 0.5) / 12.0
        frames.append(pd.DataFrame({"t": t, "v": vals, "s": name}))
    df = pd.concat(frames, ignore_index=True)
    sns.lineplot(data=df, x="t", y="v", hue="s", hue_order=series_names,
                 palette=colors, linewidth=1.5, estimator=None, ax=ax,
                 legend=(k == 3))
    ax.set_xlim(1993, 2021)
    ax.set_ylim(*ylim)
    ax.set_xticks(tick_years)
    ax.set_xticklabels([str(y) for y in tick_years])
    ax.set_yticks(yt)
    ax.tick_params(direction="in", top=True, right=True, length=3.5, width=0.6,
                   labelsize=fs, colors="#262626")
    ax.tick_params(axis="x", pad=4.5)
    ax.tick_params(axis="y", pad=2)
    for sp in ax.spines.values():
        sp.set_linewidth(0.6)
        sp.set_color("#262626")
    ax.set_title(title, fontsize=fs, pad=3, color="#111111")
    ax.set_xlabel("年份", fontsize=fs, labelpad=1.5, color="#111111")
    ax.set_ylabel("振幅", fontsize=fs, labelpad=3, color="#111111")
    ax.grid(False)
    if k == 3:
        h, l = ax.get_legend_handles_labels()
        leg = ax.legend(h, l, loc="center", bbox_to_anchor=(0.5, 0.125), ncol=4,
                        frameon=False, fontsize=fs, handlelength=2.4,
                        handletextpad=0.3, columnspacing=0.7, borderaxespad=0)
        for line in leg.get_lines():
            line.set_linewidth(1.8)

fig.savefig("out.png", dpi=100)
